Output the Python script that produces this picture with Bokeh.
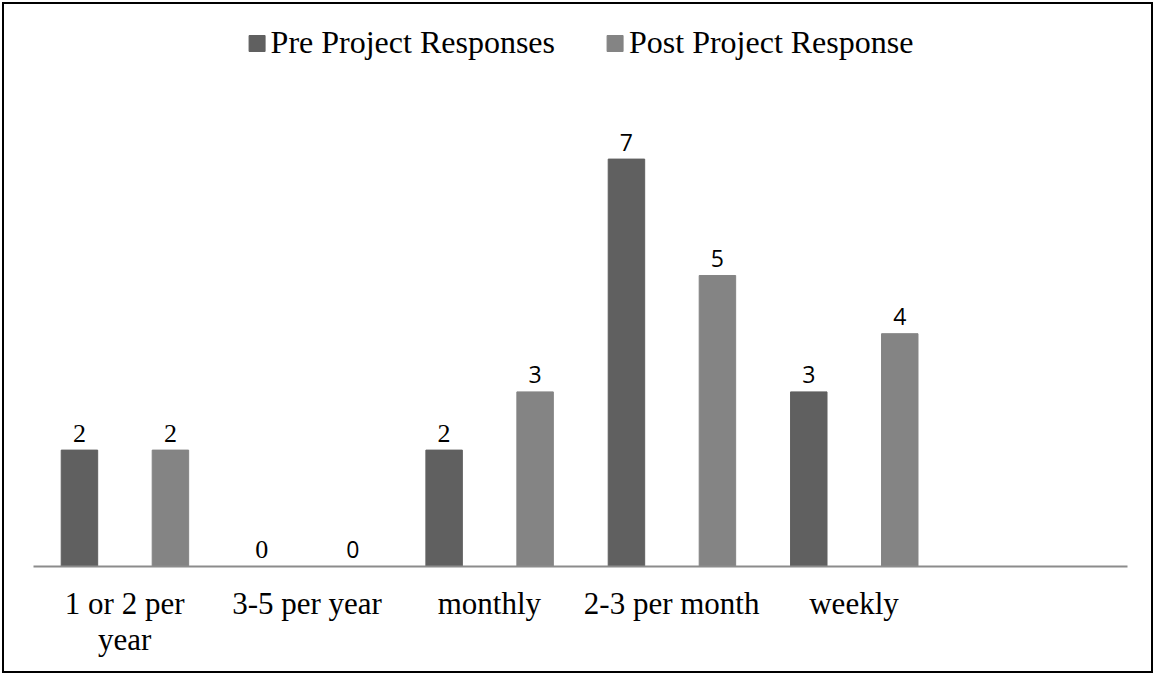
from bokeh.plotting import figure
from bokeh.models import ColumnDataSource, FactorRange, Range1d, Legend, LegendItem
from bokeh.transform import dodge
from bokeh.embed import file_html
from bokeh.resources import INLINE

# ---- data ----
categories = ["1 or 2 per\nyear", "3-5 per year", "monthly", "2-3 per month", "weekly"]
pre_values = [2, 0, 2, 7, 3]
post_values = [2, 0, 3, 5, 4]
series_names = ["Pre Project Responses", "Post Project Response"]
factors = categories + [" "]

SERIF = "Liberation Serif"
SANS = "Open Sans"

pre_src = ColumnDataSource(dict(
    cat=categories, val=pre_values, lab=[str(v) for v in pre_values],
    font=[SERIF, SERIF, SERIF, SANS, SANS],
    size=["26px", "26px", "26px", "23px", "23px"],
))
post_src = ColumnDataSource(dict(
    cat=categories, val=post_values, lab=[str(v) for v in post_values],
    font=[SERIF, SANS, SANS, SANS, SANS],
    size=["26px", "23px", "23px", "23px", "23px"],
))

p = figure(
    width=1151, height=671,
    x_range=FactorRange(factors=factors, range_padding=0),
    y_range=Range1d(0, 9.656),
    output_backend="svg", toolbar_location=None,
    min_border_left=29, min_border_right=28, min_border_top=0, min_border_bottom=109,
)
p.styles = {"border": "2px solid black", "margin": "2px 0 0 2px"}
p.outline_line_color = None
p.background_fill_color = "white"
p.border_fill_color = "white"
p.xgrid.visible = False
p.ygrid.visible = False
p.yaxis.visible = False

PRE_C = "#606060"
POST_C = "#848484"

r_pre = p.vbar(x=dodge("cat", -0.248, range=p.x_range), top="val", width=0.2,
               source=pre_src, fill_color=PRE_C, line_color=PRE_C)
r_post = p.vbar(x=dodge("cat", 0.251, range=p.x_range), top="val", width=0.2,
                source=post_src, fill_color=POST_C, line_color=POST_C)

p.text(x=dodge("cat", -0.248, range=p.x_range), y="val", text="lab", source=pre_src,
       text_font="font", text_font_size="size", text_align="center",
       text_baseline="alphabetic", y_offset=-17, text_color="black")
p.text(x=dodge("cat", 0.251, range=p.x_range), y="val", text="lab", source=post_src,
       text_font="font", text_font_size="size", text_align="center",
       text_baseline="alphabetic", y_offset=-17, text_color="black")

ax = p.xaxis[0]
ax.axis_line_color = "#8c8c8c"
ax.axis_line_width = 2
ax.major_tick_line_color = None
ax.minor_tick_line_color = None
ax.major_label_text_font = SERIF
ax.major_label_text_font_size = "31px"
ax.major_label_text_color = "black"
ax.major_label_text_line_height = 1.05
ax.major_label_standoff = 13

legend = Legend(items=[LegendItem(label=series_names[0], renderers=[r_pre]),
                       LegendItem(label=series_names[1], renderers=[r_post])],
                location="top_center", orientation="horizontal")
legend.label_text_font = SERIF
legend.label_text_font_size = "32px"
legend.label_text_color = "black"
legend.glyph_width = 20
legend.glyph_height = 20
legend.label_standoff = 4
legend.spacing = 50
legend.padding = 0
legend.margin = 20
legend.border_line_color = None
legend.background_fill_alpha = 0
p.add_layout(legend)

open("out.html", "w").write(file_html(p, INLINE))
